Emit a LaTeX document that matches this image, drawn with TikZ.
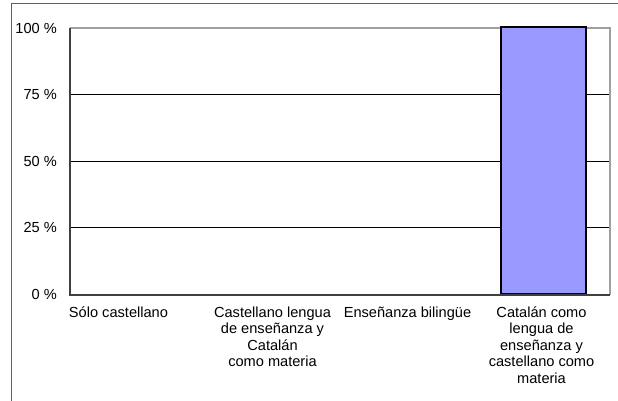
\documentclass[tikz,border=0pt]{standalone}
\usepackage{fontspec}
\setmainfont{Liberation Sans}
\definecolor{barfill}{HTML}{9999FF}
\definecolor{axisc}{HTML}{404040}
\definecolor{framec}{HTML}{A0A0A0}
\definecolor{outerc}{HTML}{606060}
\begin{document}
\begin{tikzpicture}[x=1pt,y=-1pt,
  lbl/.style={font=\fontsize{14.6}{16.4}\selectfont, inner sep=0pt},
  ylbl/.style={lbl, anchor=east},
  cat/.style={lbl, anchor=north, align=center},
  grid/.style={black, line width=1pt},
  barbox/.style={fill=barfill, draw=black, line width=2pt},
  axisline/.style={axisc, line width=2pt},
  frameline/.style={framec, line width=2pt},
  outer/.style={outerc, line width=1pt}]
\useasboundingbox (0,0) rectangle (618,401);
% outer border
\coordinate (obl) at (11.5,401);
\coordinate (otl) at (11.5,3.5);
\coordinate (otr) at (618,3.5);
\draw[outer] (obl) -- (otl) -- (otr);
% plot corners
\coordinate (pbl) at (70,294.5);
\coordinate (ptl) at (70,28);
\coordinate (ptr) at (610,28);
\coordinate (pbr) at (610,294.5);
% gridlines
\coordinate (g75l) at (70,94.5);  \coordinate (g75r) at (610,94.5);
\coordinate (g50l) at (70,161);   \coordinate (g50r) at (610,161);
\coordinate (g25l) at (70,227.8); \coordinate (g25r) at (610,227.8);
\draw[grid] (g75l) -- (g75r);
\draw[grid] (g50l) -- (g50r);
\draw[grid] (g25l) -- (g25r);
% frame
\draw[frameline] (ptl) -- (ptr) -- (pbr);
% bar
\node[barbox, minimum width=85pt, minimum height=266.5pt, inner sep=0pt, anchor=south] (bar) at (543.5,294.5) {};
\draw[axisline] (ptl) -- (pbl) -- (pbr);
% y labels
\node[ylbl] (y100) at (57,28) {100 \%};
\node[ylbl] (y75) at (57,94.5) {75 \%};
\node[ylbl] (y50) at (57,161) {50 \%};
\node[ylbl] (y25) at (57,227.8) {25 \%};
\node[ylbl] (y0) at (57,294.5) {0 \%};
% category labels
\node[cat] (c1) at (118.5,306.5) {Sólo castellano};
\node[cat] (c2) at (272.5,306.5) {Castellano lengua\\de enseñanza y\\Catalán\\como materia};
\node[cat] (c3) at (407.5,306.5) {Enseñanza bilingüe};
\node[cat] (c4) at (541.5,306.5) {Catalán como\\lengua de\\enseñanza y\\castellano como\\materia};
\end{tikzpicture}
\end{document}
